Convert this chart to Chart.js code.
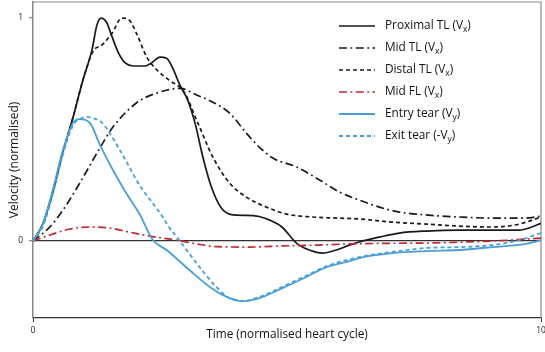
<!DOCTYPE html>
<html><head><meta charset="utf-8">
<script src="https://cdn.jsdelivr.net/npm/chart.js@4"></script>
<style>html,body{margin:0;padding:0;background:#fff}</style>
</head><body>
<canvas id="c" width="545" height="352"></canvas>
<script>
// ---- data (x = normalised heart cycle, y = normalised velocity) ----
const xTicks = [0, 10];
const yTicks = [0, 1];

const proxX = [0,0.2,0.39,0.59,0.79,0.98,1.16,1.26,1.34,1.45,1.55,1.67,1.81,2.0,2.2,2.34,2.5,2.63,2.75,2.89,3.05,3.2,3.34,3.5,3.7,3.93,4.2,4.45,4.66,4.9,5.19,5.44,5.7,5.97,6.23,6.42,6.82,7.21,7.74,8.39,9.04,9.57,9.82,10];
const proxY = [0,0.08,0.22,0.40,0.556,0.72,0.856,0.97,1.0,0.98,0.92,0.85,0.80,0.785,0.785,0.80,0.825,0.82,0.776,0.70,0.63,0.52,0.38,0.25,0.15,0.117,0.115,0.11,0.094,0.063,-0.01,-0.04,-0.054,-0.04,-0.018,-0.004,0.018,0.036,0.045,0.049,0.049,0.049,0.063,0.08];

const midX = [0,0.33,0.59,0.92,1.26,1.57,2.04,2.44,2.9,3.22,3.54,3.87,4.2,4.46,4.72,5.19,5.64,6.03,6.42,6.82,7.21,7.74,8.39,9.04,9.7,10];
const midY = [0,0.063,0.139,0.26,0.395,0.51,0.62,0.664,0.685,0.655,0.623,0.574,0.484,0.42,0.372,0.332,0.274,0.22,0.184,0.152,0.13,0.117,0.108,0.103,0.103,0.112];

const distX = [0,0.2,0.39,0.59,0.79,0.98,1.18,1.36,1.55,1.75,1.9,2.04,2.24,2.44,2.69,2.97,3.22,3.54,3.87,4.2,4.6,4.99,5.5,6.42,7.07,7.74,8.39,9.04,9.57,10];
const distY = [0,0.08,0.22,0.40,0.556,0.72,0.85,0.88,0.93,1.0,0.99,0.93,0.825,0.767,0.72,0.67,0.543,0.377,0.26,0.197,0.152,0.121,0.108,0.099,0.085,0.076,0.067,0.063,0.076,0.108];

const flX = [0,0.33,0.73,1.12,1.51,1.9,2.3,2.83,3.2,3.61,4.26,4.9,5.58,6.23,7.0,7.74,8.4,9.04,10];
const flY = [0,0.027,0.054,0.063,0.058,0.04,0.022,0.004,-0.012,-0.025,-0.027,-0.022,-0.018,-0.013,-0.01,-0.009,-0.005,0,0.013];

const entX = [0,0.2,0.39,0.59,0.79,0.92,1.12,1.32,1.57,1.85,2.1,2.36,2.63,3.08,3.48,3.81,4.13,4.46,4.91,5.38,5.78,6.23,6.42,7.07,7.74,8.39,9.04,9.7,10];
const entY = [0,0.08,0.229,0.408,0.53,0.547,0.53,0.43,0.32,0.21,0.12,0.005,-0.04,-0.13,-0.206,-0.25,-0.269,-0.256,-0.211,-0.161,-0.117,-0.09,-0.076,-0.054,-0.045,-0.04,-0.027,-0.013,0.004];

const exitX = [0,0.2,0.39,0.59,0.79,0.95,1.08,1.2,1.36,1.71,2.1,2.5,2.69,2.85,2.95,3.28,3.61,3.87,4.13,4.46,4.91,5.38,5.78,6.42,7.07,7.74,8.39,9.04,9.57,10];
const exitY = [0,0.07,0.21,0.39,0.52,0.55,0.556,0.55,0.53,0.408,0.25,0.126,0.058,0.013,-0.018,-0.117,-0.206,-0.256,-0.269,-0.25,-0.205,-0.155,-0.112,-0.072,-0.049,-0.031,-0.027,-0.018,0.004,0.036];

const labels = ['Proximal TL (V', 'Mid TL (V', 'Distal TL (V', 'Mid FL (V', 'Entry tear (V', 'Exit tear (-V'];
const subs = ['x','x','x','x','y','y'];

// ---- styling ----
const FONT = '"Open Sans", "Liberation Sans", sans-serif';
const BLACK = '#1a1a1a', RED = '#c0282d', BLUE = '#4a9fd6';
const DASHDOT = [8,3.5,1.8,3.5], DASH = [4,3];
const series = [
  {x:proxX, y:proxY, color:BLACK, dash:[], w:1.7},
  {x:midX,  y:midY,  color:BLACK, dash:DASHDOT, w:1.7},
  {x:distX, y:distY, color:BLACK, dash:DASH, w:1.7},
  {x:flX,   y:flY,   color:RED,   dash:DASHDOT, w:1.7},
  {x:entX,  y:entY,  color:BLUE,  dash:[], w:1.8},
  {x:exitX, y:exitY, color:BLUE,  dash:DASH, w:1.8}
];

const pts = (xs, ys) => xs.map((x, i) => ({x, y: ys[i]}));

const frame = {
  id: 'frame',
  beforeDatasetsDraw(chart) {
    const {ctx, chartArea: a} = chart;
    ctx.save();
    ctx.strokeStyle = '#888'; ctx.lineWidth = 1.2;
    ctx.beginPath();
    ctx.moveTo(a.left, a.top); ctx.lineTo(a.right, a.top); ctx.lineTo(a.right, a.bottom);
    ctx.stroke();
    ctx.restore();
  }
};

const legend = {
  id: 'customLegend',
  afterDatasetsDraw(chart) {
    const {ctx, chartArea: a} = chart;
    ctx.save();
    const x0 = 339, y0 = a.top + 24, dy = 22;
    series.forEach((s, i) => {
      const y = y0 + i * dy;
      ctx.beginPath();
      ctx.setLineDash(s.dash);
      ctx.strokeStyle = s.color; ctx.lineWidth = s.w;
      ctx.moveTo(x0, y); ctx.lineTo(x0 + 36, y); ctx.stroke();
      ctx.setLineDash([]);
      ctx.fillStyle = '#111'; ctx.textBaseline = 'middle'; ctx.textAlign = 'left';
      let x = x0 + 46;
      ctx.font = '11.8px ' + FONT;
      ctx.fillText(labels[i], x, y); x += ctx.measureText(labels[i]).width;
      ctx.font = '8.5px ' + FONT;
      ctx.fillText(subs[i], x, y + 3.5); x += ctx.measureText(subs[i]).width;
      ctx.font = '11.8px ' + FONT;
      ctx.fillText(')', x, y);
    });
    ctx.restore();
  }
};

new Chart(document.getElementById('c'), {
  type: 'line',
  data: {
    datasets: series.map((s, i) => ({
      label: labels[i] + subs[i] + ')',
      data: pts(s.x, s.y),
      borderColor: s.color,
      borderDash: s.dash,
      borderWidth: s.w,
      pointRadius: 0,
      fill: false,
      cubicInterpolationMode: 'monotone',
      order: 6 - i
    }))
  },
  options: {
    responsive: false,
    animation: false,
    devicePixelRatio: 1,
    layout: {padding: {left: 0, right: 4, top: 2, bottom: 0}},
    plugins: {legend: {display: false}, tooltip: {enabled: false}},
    scales: {
      x: {
        type: 'linear', min: 0, max: 10,
        afterBuildTicks: s => { s.ticks = xTicks.map(v => ({value: v})); },
        afterFit: s => { s.height = 34; s.paddingLeft = 0; s.paddingRight = 0; },
        grid: {drawOnChartArea: false, drawTicks: true, tickLength: 4, tickColor: '#333'},
        border: {color: '#333', width: 1.2},
        ticks: {font: {family: FONT, size: 8.5}, color: '#222', padding: 3, maxRotation: 0, autoSkip: false},
        title: {display: true, text: 'Time (normalised heart cycle)', color: '#111',
                font: {family: FONT, size: 11.8}, padding: {top: 0, bottom: 10}}
      },
      y: {
        type: 'linear', min: -0.345, max: 1.072,
        afterBuildTicks: s => { s.ticks = yTicks.map(v => ({value: v})); },
        afterFit: s => { s.width = 33; s.paddingTop = 0; s.paddingBottom = 0; },
        grid: {
          color: c => (c.tick && c.tick.value === 0) ? '#333' : 'rgba(0,0,0,0)',
          tickColor: '#888', tickLength: 4, lineWidth: 1.2, drawTicks: true
        },
        border: {color: '#888', width: 1.5},
        ticks: {font: {family: FONT, size: 8.5}, color: '#222', padding: 6},
        title: {display: true, text: 'Velocity (normalised)', color: '#111',
                font: {family: FONT, size: 12}, padding: {top: 7, bottom: 0}}
      }
    }
  },
  plugins: [frame, legend]
});
</script>
</body></html>
